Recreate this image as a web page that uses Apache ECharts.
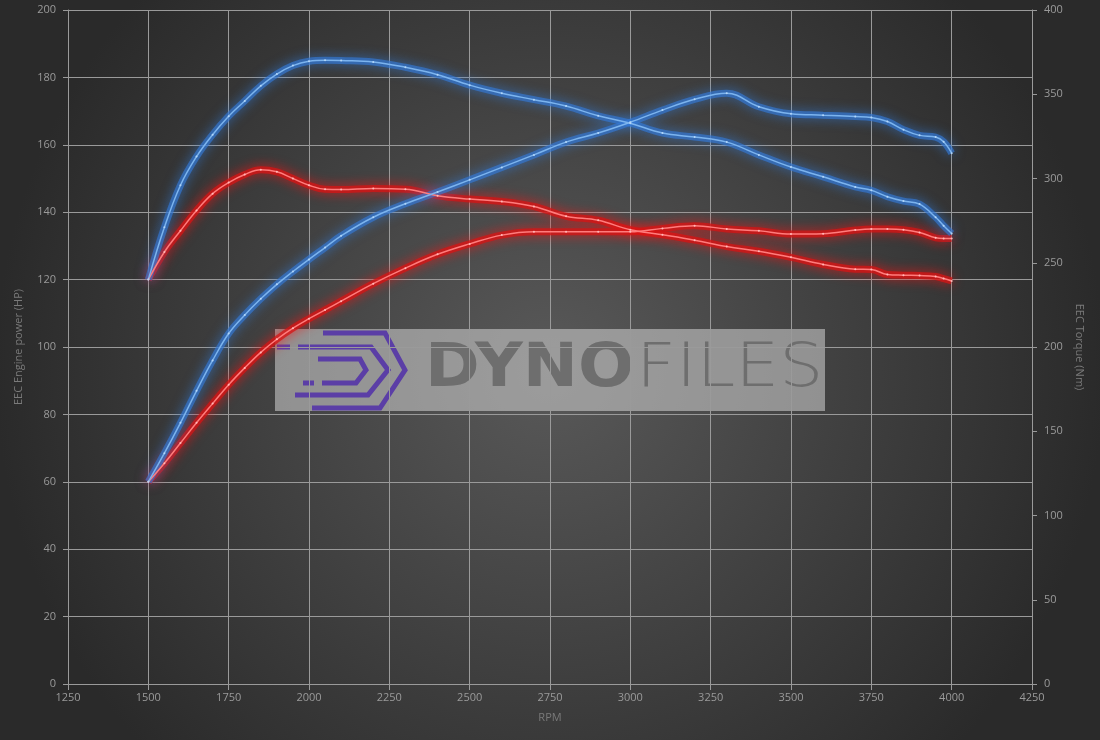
<!DOCTYPE html>
<html>
<head>
<meta charset="utf-8">
<script src="https://cdn.jsdelivr.net/npm/echarts@6/dist/echarts.min.js"></script>
<style>
  html, body { margin: 0; padding: 0; background: #333; }
  #chart { width: 1100px; height: 740px; }
</style>
</head>
<body>
<div id="chart"></div>
<script>
const rpm = [1500, 1550, 1600, 1650, 1700, 1750, 1800, 1850, 1900, 1950, 2000, 2050, 2100, 2200, 2300, 2400, 2500, 2600, 2700, 2800, 2900, 3000, 3100, 3200, 3300, 3400, 3500, 3600, 3700, 3750, 3800, 3850, 3900, 3950, 3975, 4000]

// tuned power (HP) - blue
const powerTuned = [60, 68.5, 77.5, 87, 96, 104, 109.5, 114.3, 118.6, 122.4, 126, 129.5, 133, 138.5, 142.5, 146, 149.6, 153.3, 157, 160.8, 163.5, 166.7, 170.3, 173.5, 175.3, 171.3, 169.2, 168.8, 168.4, 168.1, 166.9, 164.5, 162.8, 162.3, 160.9, 157.5]
// stock power (HP) - red
const powerStock = [60, 65.5, 71.5, 77.5, 83.2, 88.8, 93.8, 98.4, 102.3, 105.6, 108.4, 111, 113.6, 118.8, 123.4, 127.5, 130.6, 133.2, 134.2, 134.2, 134.2, 134.2, 135.2, 136, 135, 134.5, 133.5, 133.6, 134.7, 135, 135, 134.8, 134, 132.4, 132.2, 132.2]
// tuned torque (Nm) - blue
const torqueTuned = [240, 271, 296, 313, 326, 337, 346, 355, 362, 367, 369.6, 370.2, 370, 369.2, 366, 361.6, 355.4, 350.6, 346.8, 343, 337.2, 332.8, 327, 324.6, 321.6, 314, 306.8, 301, 295, 293, 289.2, 286.6, 284.8, 277, 272, 267.4]
// stock torque (Nm) - red
const torqueStock = [240, 256.4, 269, 281, 291, 297.6, 302.4, 305.2, 304, 300, 296, 293.6, 293.4, 294, 293.6, 289.8, 287.8, 286.4, 283.4, 277.6, 275.2, 269.6, 266.6, 263.4, 259.6, 256.8, 253.2, 249, 246.2, 246, 243, 242.6, 242.4, 241.8, 240.6, 239.2]

const blue = { core: '#7cb4ee', glow: 'rgba(52,122,215,0.65)', shadow: '#2f7ee0', dot: '#b3d5f7' }
const red = { core: '#ff7c7c', glow: 'rgba(215,20,20,0.75)', shadow: '#ff1010', dot: '#ffb8b8' }

function pairs (vals) {
  return rpm.map((r, i) => [r, vals[i]])
}

// wide blurred band under a thin light core line
function glow (vals, yIndex, c) {
  return {
    type: 'line',
    yAxisIndex: yIndex,
    smooth: 0.4,
    data: pairs(vals),
    showSymbol: false,
    silent: true,
    lineStyle: { color: c.glow, width: 7, shadowColor: c.shadow, shadowBlur: 12 },
    emphasis: { disabled: true },
    z: 2
  }
}

function curve (name, vals, yIndex, c) {
  return {
    name: name,
    type: 'line',
    yAxisIndex: yIndex,
    smooth: 0.4,
    data: pairs(vals),
    symbol: 'circle',
    symbolSize: 2,
    showSymbol: true,
    itemStyle: { color: c.dot, borderWidth: 0 },
    lineStyle: { color: c.core, width: 1.5 },
    emphasis: { disabled: true },
    z: 3
  }
}

const labelStyle = { color: '#9a9a9a', fontSize: 11, fontFamily: 'Open Sans' }
const nameStyle = { color: '#7a7a7a', fontSize: 11, fontFamily: 'Open Sans' }
const lineCol = '#9a9a9a'
const plain = (v) => String(v)

let chart = echarts.init(document.getElementById('chart'))
chart.setOption({
  animation: false,
  backgroundColor: {
    type: 'radial',
    x: 0.5,
    y: 0.5,
    r: 0.75,
    colorStops: [
      { offset: 0, color: '#595959' },
      { offset: 1, color: '#2a2a2a' }
    ]
  },
  grid: { left: 68, right: 68, top: 10, bottom: 56 },
  xAxis: {
    type: 'value',
    min: 1250,
    max: 4250,
    interval: 250,
    name: 'RPM',
    nameLocation: 'middle',
    nameGap: 28,
    nameTextStyle: nameStyle,
    axisLine: { show: true, lineStyle: { color: lineCol } },
    axisTick: { show: true, length: 6, lineStyle: { color: lineCol } },
    axisLabel: Object.assign({ margin: 8, formatter: plain }, labelStyle),
    splitLine: { show: true, lineStyle: { color: lineCol, width: 1 } }
  },
  yAxis: [
    {
      type: 'value',
      min: 0,
      max: 200,
      interval: 20,
      position: 'left',
      name: 'EEC Engine power (HP)',
      nameLocation: 'middle',
      nameGap: 44,
      nameTextStyle: nameStyle,
      axisLine: { show: true, lineStyle: { color: lineCol } },
      axisTick: { show: true, length: 5, lineStyle: { color: lineCol } },
      axisLabel: Object.assign({ margin: 12, formatter: plain }, labelStyle),
      splitLine: { show: true, lineStyle: { color: lineCol, width: 1 } }
    },
    {
      type: 'value',
      min: 0,
      max: 400,
      interval: 50,
      position: 'right',
      name: 'EEC Torque (Nm)',
      nameLocation: 'middle',
      nameRotate: -90,
      nameGap: 42,
      nameTextStyle: nameStyle,
      axisLine: { show: true, lineStyle: { color: lineCol } },
      axisTick: { show: true, length: 5, lineStyle: { color: lineCol } },
      axisLabel: Object.assign({ margin: 12, formatter: plain }, labelStyle),
      splitLine: { show: false }
    }
  ],
  series: [
    glow(torqueStock, 1, red),
    glow(powerStock, 0, red),
    glow(torqueTuned, 1, blue),
    glow(powerTuned, 0, blue),
    curve('Stock torque', torqueStock, 1, red),
    curve('Stock power', powerStock, 0, red),
    curve('Tuned torque', torqueTuned, 1, blue),
    curve('Tuned power', powerTuned, 0, blue)
  ],
  graphic: [
    {
      type: 'group',
      z: 100,
      children: [
        {
          type: 'rect',
          shape: { x: 275, y: 329, width: 550, height: 82 },
          style: { fill: 'rgba(212,212,212,0.55)' }
        },
        // logo
        {
          type: 'polyline',
          shape: { points: [[323, 333], [385, 333], [405, 370], [380, 408], [312, 408]] },
          style: { stroke: '#5b3ea6', lineWidth: 5, fill: null }
        },
        {
          type: 'polyline',
          shape: { points: [[298, 347], [371, 347], [388, 370], [368, 395], [295, 395]] },
          style: { stroke: '#5b3ea6', lineWidth: 5, fill: null }
        },
        {
          type: 'polyline',
          shape: { points: [[318, 359], [360, 359], [366, 370], [356, 383], [322, 383]] },
          style: { stroke: '#5b3ea6', lineWidth: 5, fill: null }
        },
        {
          type: 'line',
          shape: { x1: 277, y1: 347, x2: 290, y2: 347 },
          style: { stroke: '#5b3ea6', lineWidth: 5 }
        },
        {
          type: 'line',
          shape: { x1: 303, y1: 383, x2: 314, y2: 383 },
          style: { stroke: '#5b3ea6', lineWidth: 5 }
        },
        {
          type: 'text',
          x: 425,
          y: 370,
          scaleX: 1.1,
          style: {
            text: 'DYNO',
            fill: '#6e6e6e',
            font: 'bold 60px "DejaVu Sans"',
            verticalAlign: 'middle',
            align: 'left'
          }
        },
        {
          type: 'text',
          x: 636,
          y: 370,
          scaleX: 1.16,
          style: {
            text: 'FILES',
            fill: '#6e6e6e',
            font: '200 60px "DejaVu Sans"',
            verticalAlign: 'middle',
            align: 'left'
          }
        }
      ]
    }
  ]
})
</script>
</body>
</html>
